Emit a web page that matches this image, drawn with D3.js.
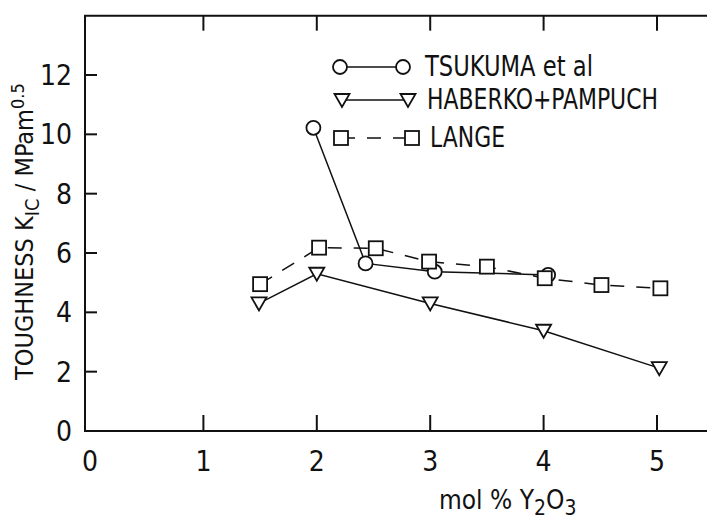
<!DOCTYPE html>
<html>
<head>
<meta charset="utf-8">
<script src="https://cdn.jsdelivr.net/npm/d3@7"></script>
<style>
  body { margin: 0; background: white; }
  text { font-family: "Liberation Sans Narrow", "DejaVu Sans Condensed", sans-serif; fill: #111; }
</style>
</head>
<body>
<div id="chart"></div>
<script>
// Data
let tsukumaX = [1.97, 2.43, 3.04, 4.04]
let tsukumaY = [10.22, 5.65, 5.37, 5.26]
let haberkoX = [1.49, 2.0, 3.0, 4.0, 5.02]
let haberkoY = [4.3, 5.3, 4.3, 3.38, 2.12]
let langeX = [1.5, 2.02, 2.52, 2.99, 3.5, 4.01, 4.51, 5.03]
let langeY = [4.95, 6.18, 6.16, 5.71, 5.54, 5.15, 4.92, 4.81]
let xTicks = [0, 1, 2, 3, 4, 5]
let yTicks = [0, 2, 4, 6, 8, 10, 12]
let legendNames = ["TSUKUMA et al", "HABERKO+PAMPUCH", "LANGE"]

var width = 707
var height = 523

let svg = d3.select("#chart")
  .append("svg")
  .attr("width", width)
  .attr("height", height)

// scales
let x = d3.scaleLinear()
  .domain([0, 5])
  .range([90, 657])
let y = d3.scaleLinear()
  .domain([0, 12])
  .range([431, 75])

let frameLeft = 85
let frameTop = y(14)
let frameBottom = y(0)
let frameRight = x(5.6)

// frame (right side is cut off by the picture)
svg.append("path")
  .attr("d", "M" + frameRight + "," + frameTop + "H" + frameLeft + "V" + frameBottom + "H" + frameRight)
  .attr("fill", "none")
  .attr("stroke", "#111")
  .attr("stroke-width", 2)

// ticks, pointing inwards
svg.selectAll(".xtick")
  .data(xTicks.filter(d => d > 0))
  .enter().append("line")
  .attr("x1", d => x(d)).attr("x2", d => x(d))
  .attr("y1", frameBottom).attr("y2", frameBottom - 16)
  .attr("stroke", "#111").attr("stroke-width", 2)

svg.selectAll(".xtoptick")
  .data(xTicks.filter(d => d > 0))
  .enter().append("line")
  .attr("x1", d => x(d)).attr("x2", d => x(d))
  .attr("y1", frameTop).attr("y2", frameTop + 15)
  .attr("stroke", "#111").attr("stroke-width", 2)

svg.selectAll(".ytick")
  .data(yTicks.filter(d => d > 0))
  .enter().append("line")
  .attr("x1", frameLeft).attr("x2", frameLeft + 12)
  .attr("y1", d => y(d)).attr("y2", d => y(d))
  .attr("stroke", "#111").attr("stroke-width", 2)

// tick labels
svg.selectAll(".xlab")
  .data(xTicks)
  .enter().append("text")
  .attr("x", d => x(d))
  .attr("y", 471)
  .attr("text-anchor", "middle")
  .attr("font-size", "28px")
  .text(d => d)

svg.selectAll(".ylab")
  .data(yTicks)
  .enter().append("text")
  .attr("x", 72)
  .attr("y", d => y(d) + 10)
  .attr("text-anchor", "end")
  .attr("font-size", "28px")
  .text(d => d)

// axis titles
let xt = svg.append("text")
  .attr("x", 439)
  .attr("y", 509)
  .attr("font-size", "26px")
xt.append("tspan").text("mol % Y")
xt.append("tspan").attr("dy", 6).attr("font-size", "21px").text("2")
xt.append("tspan").attr("dy", -6).text("O")
xt.append("tspan").attr("dy", 6).attr("font-size", "21px").text("3")

let yt = svg.append("text")
  .attr("transform", "translate(33,380) rotate(-90)")
  .attr("font-size", "25px")
yt.append("tspan").text("TOUGHNESS  K")
yt.append("tspan").attr("dy", 6).attr("font-size", "20px").text("IC")
yt.append("tspan").attr("dy", -6).text(" / MPam")
yt.append("tspan").attr("dy", -9).attr("font-size", "18px").text("0.5")

// series
let series = [
  {xs: tsukumaX, ys: tsukumaY, shape: "circle", dash: null},
  {xs: haberkoX, ys: haberkoY, shape: "triangle", dash: null},
  {xs: langeX, ys: langeY, shape: "square", dash: "14,12"}
]

let line = d3.line()
  .x(d => x(d[0]))
  .y(d => y(d[1]))

function marker(g, shape, cx, cy) {
  if (shape == "circle") {
    g.append("circle").attr("cx", cx).attr("cy", cy).attr("r", 7)
      .attr("fill", "white").attr("stroke", "#111").attr("stroke-width", 1.8)
  } else if (shape == "square") {
    g.append("rect").attr("x", cx - 7).attr("y", cy - 7)
      .attr("width", 14).attr("height", 14)
      .attr("fill", "white").attr("stroke", "#111").attr("stroke-width", 1.8)
  } else {
    g.append("path")
      .attr("d", "M" + (cx - 7.5) + "," + (cy - 6) + "H" + (cx + 7.5) + "L" + cx + "," + (cy + 7) + "Z")
      .attr("fill", "white").attr("stroke", "#111").attr("stroke-width", 1.8)
  }
}

series.forEach(s => {
  let pts = s.xs.map((v, i) => [v, s.ys[i]])
  svg.append("path")
    .datum(pts)
    .attr("d", line)
    .attr("fill", "none")
    .attr("stroke", "#111")
    .attr("stroke-width", 1.5)
    .attr("stroke-dasharray", s.dash)
  let g = svg.append("g")
  pts.forEach(p => marker(g, s.shape, x(p[0]), y(p[1])))
})

// legend
let legY = [67, 100, 138]
let legX1 = [340, 342, 341]
let legX2 = [403, 408, 412]
let legTextX = [425, 427, 430]
let legTextW = [168, 231, 75]
series.forEach((s, i) => {
  svg.append("line")
    .attr("x1", legX1[i]).attr("x2", legX2[i])
    .attr("y1", legY[i]).attr("y2", legY[i])
    .attr("stroke", "#111").attr("stroke-width", 1.5)
    .attr("stroke-dasharray", s.dash)
  let g = svg.append("g")
  marker(g, s.shape, legX1[i], legY[i])
  marker(g, s.shape, legX2[i], legY[i])
  svg.append("text")
    .attr("x", legTextX[i])
    .attr("y", legY[i] + 9)
    .attr("font-size", "29px")
    .attr("textLength", legTextW[i])
    .attr("lengthAdjust", "spacingAndGlyphs")
    .text(legendNames[i])
})
</script>
</body>
</html>
